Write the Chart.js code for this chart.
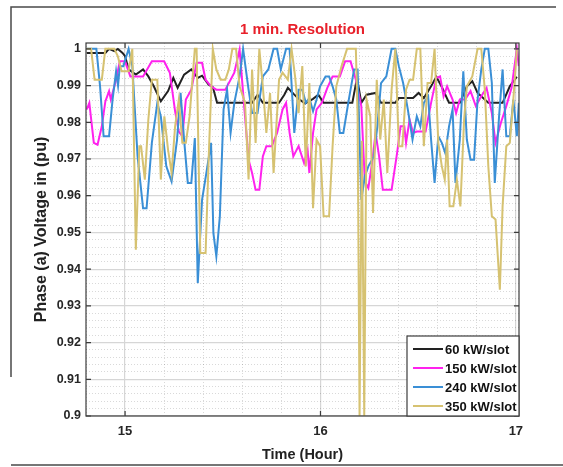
<!DOCTYPE html>
<html>
<head>
<meta charset="utf-8">
<script src="https://cdn.jsdelivr.net/npm/chart.js@4.4.1/dist/chart.umd.min.js"></script>
<style>
  html, body { margin: 0; padding: 0; background: #fff; }
</style>
</head>
<body>
<canvas id="voltChart" width="563" height="467"></canvas>
<script>
Chart.defaults.font.family = "'Liberation Sans', Arial, Helvetica, sans-serif";
Chart.defaults.color = '#262626';

// [time (hour), phase-a voltage (pu)]
const slot60 = [
  [14.804, 0.9989], [14.899, 0.9989], [14.918, 1.0], [14.945, 0.9994], [14.963, 1.0], [14.987, 0.9989],
  [15.0, 0.998], [15.018, 0.9944], [15.055, 0.993], [15.092, 0.9944], [15.119, 0.9925], [15.147, 0.9898],
  [15.183, 0.9857], [15.22, 0.9885], [15.247, 0.9921], [15.269, 0.9894], [15.302, 0.993], [15.339, 0.9944],
  [15.372, 0.9921], [15.394, 0.9927], [15.427, 0.9903], [15.449, 0.9896], [15.471, 0.9853], [15.65, 0.9853],
  [15.678, 0.9875], [15.705, 0.9853], [15.788, 0.9853], [15.815, 0.9875], [15.833, 0.9894], [15.861, 0.9878],
  [15.888, 0.9864], [15.921, 0.9851], [15.962, 0.9864], [15.989, 0.9875], [16.016, 0.9853], [16.163, 0.9853],
  [16.187, 0.9921], [16.209, 0.9853], [16.236, 0.9875], [16.282, 0.988], [16.31, 0.9853], [16.383, 0.9853],
  [16.401, 0.9866], [16.474, 0.9866], [16.502, 0.988], [16.529, 0.9866], [16.566, 0.9898], [16.593, 0.9924],
  [16.621, 0.9896], [16.658, 0.9853], [16.713, 0.9853], [16.749, 0.9898], [16.777, 0.9912], [16.804, 0.988],
  [16.859, 0.9853], [16.932, 0.9853], [16.969, 0.9898], [17.005, 0.9924]
];
const slot150 = [
  [14.804, 0.9835], [14.817, 0.9853], [14.84, 0.9744], [14.859, 0.9739], [14.881, 0.9789], [14.899, 0.9857],
  [14.918, 0.9885], [14.927, 0.9862], [14.954, 0.9916], [14.973, 0.9966], [15.0, 0.9966], [15.027, 0.9925],
  [15.092, 0.9925], [15.137, 0.9966], [15.2, 0.9966], [15.229, 0.9935], [15.256, 0.983], [15.275, 0.9775],
  [15.293, 0.9762], [15.311, 0.9862], [15.339, 0.9889], [15.366, 0.9962], [15.394, 0.9962], [15.412, 0.9916],
  [15.44, 0.9898], [15.467, 0.9889], [15.513, 0.9889], [15.559, 0.9935], [15.586, 0.9998], [15.632, 0.9698],
  [15.65, 0.9662], [15.668, 0.9616], [15.687, 0.9616], [15.705, 0.9707], [15.723, 0.9735], [15.751, 0.9735],
  [15.778, 0.9771], [15.806, 0.9835], [15.824, 0.9853], [15.842, 0.9771], [15.861, 0.9707], [15.888, 0.9735],
  [15.916, 0.9689], [15.934, 0.9725], [15.943, 0.9662], [15.962, 0.9771], [15.98, 0.9835], [16.007, 0.9853],
  [16.035, 0.9894], [16.062, 0.9925], [16.099, 0.9925], [16.126, 0.9966], [16.154, 0.9966], [16.181, 0.9916],
  [16.209, 0.9844], [16.227, 0.9639], [16.245, 0.9621], [16.264, 0.9689], [16.282, 0.9771], [16.3, 0.9707],
  [16.319, 0.9616], [16.364, 0.9616], [16.392, 0.9716], [16.41, 0.9789], [16.429, 0.9789], [16.438, 0.9744],
  [16.456, 0.9807], [16.474, 0.9771], [16.493, 0.9775], [16.538, 0.9775], [16.566, 0.9853], [16.593, 0.9921],
  [16.612, 0.9925], [16.63, 0.9871], [16.648, 0.9898], [16.676, 0.9862], [16.694, 0.9825], [16.713, 0.9862],
  [16.74, 0.9862], [16.768, 0.9885], [16.795, 0.9844], [16.823, 0.9871], [16.85, 0.9894], [16.877, 0.9825],
  [16.896, 0.9744], [16.923, 0.9798], [16.951, 0.9844], [16.978, 0.9894], [17.005, 1.0], [17.015, 0.9953]
];
const slot240 = [
  [14.804, 1.0], [14.853, 1.0], [14.872, 0.9898], [14.89, 0.9762], [14.918, 0.9762], [14.936, 0.9862],
  [14.954, 0.9939], [14.964, 0.99], [14.973, 0.9953], [14.991, 0.9953], [15.018, 1.0], [15.037, 0.9953],
  [15.064, 0.9707], [15.092, 0.9566], [15.11, 0.9566], [15.137, 0.9744], [15.165, 0.9853], [15.183, 0.9816],
  [15.211, 0.968], [15.238, 0.9639], [15.266, 0.9753], [15.284, 0.988], [15.302, 0.9753], [15.321, 0.9635],
  [15.339, 0.9635], [15.357, 0.9757], [15.372, 0.9362], [15.394, 0.9589], [15.416, 0.9662], [15.44, 0.9744],
  [15.452, 0.9498], [15.467, 0.9435], [15.485, 0.9544], [15.504, 0.9835], [15.522, 0.9889], [15.54, 0.9771],
  [15.559, 0.9853], [15.586, 0.9925], [15.604, 1.0], [15.632, 0.9889], [15.65, 0.9825], [15.678, 0.9825],
  [15.705, 0.9925], [15.733, 0.9944], [15.76, 1.0], [15.778, 1.0], [15.797, 0.9944], [15.824, 1.0],
  [15.842, 1.0], [15.866, 0.9771], [15.888, 0.9889], [15.907, 0.9889], [15.925, 0.9853], [15.943, 0.9866],
  [15.962, 0.983], [15.98, 0.9862], [15.998, 0.9898], [16.026, 0.9925], [16.044, 0.9925], [16.062, 0.9898],
  [16.081, 0.9862], [16.099, 0.9771], [16.117, 0.9771], [16.145, 0.9862], [16.172, 0.9944], [16.19, 0.9944],
  [16.209, 0.9589], [16.227, 0.9653], [16.245, 0.968], [16.273, 0.9707], [16.291, 0.9789], [16.31, 0.9907],
  [16.337, 0.9925], [16.364, 1.0], [16.383, 1.0], [16.401, 0.9953], [16.423, 0.9907], [16.447, 0.9835],
  [16.471, 0.9753], [16.493, 0.9816], [16.511, 0.9789], [16.529, 0.9853], [16.551, 0.9871], [16.566, 0.9753],
  [16.584, 0.9635], [16.603, 0.9762], [16.621, 0.9744], [16.639, 0.9716], [16.658, 0.9789], [16.676, 0.9835],
  [16.691, 0.9635], [16.713, 0.9753], [16.731, 0.9939], [16.749, 0.9753], [16.768, 0.9698], [16.786, 0.9698],
  [16.804, 0.9862], [16.823, 0.9944], [16.841, 1.0], [16.859, 1.0], [16.877, 0.9907], [16.892, 0.9635],
  [16.914, 0.9816], [16.932, 0.9944], [16.951, 0.9762], [16.969, 0.9762], [16.987, 0.9862], [17.005, 0.9762],
  [17.015, 0.9853]
];
const slot350 = [
  [14.804, 1.0], [14.826, 1.0], [14.844, 0.9916], [14.881, 0.9916], [14.899, 1.0], [14.945, 1.0],
  [14.963, 0.998], [14.982, 0.9939], [15.018, 0.9939], [15.037, 1.0], [15.055, 0.9453], [15.073, 0.9735],
  [15.082, 0.9735], [15.101, 0.9644], [15.119, 0.9807], [15.137, 0.9916], [15.165, 0.9916], [15.183, 0.9644],
  [15.201, 0.9816], [15.22, 0.9725], [15.238, 0.9662], [15.256, 0.9789], [15.275, 0.9862], [15.293, 0.9744],
  [15.311, 0.9744], [15.33, 0.9816], [15.357, 1.0], [15.366, 1.0], [15.385, 0.9444], [15.412, 0.9444],
  [15.43, 0.9735], [15.449, 1.0], [15.467, 0.9944], [15.489, 0.9916], [15.513, 0.9916], [15.531, 0.9944],
  [15.549, 1.0], [15.568, 1.0], [15.586, 0.9898], [15.614, 0.9853], [15.632, 0.9644], [15.65, 0.9944],
  [15.668, 0.9744], [15.687, 1.0], [15.705, 0.9898], [15.723, 0.9771], [15.742, 0.988], [15.76, 0.9662],
  [15.788, 0.9916], [15.806, 0.9935], [15.833, 0.9916], [15.852, 1.0], [15.87, 0.9925], [15.888, 0.9825],
  [15.907, 0.9953], [15.925, 0.968], [15.943, 0.9907], [15.962, 0.9566], [15.98, 0.9753], [15.998, 0.9735],
  [16.016, 0.9544], [16.044, 0.9544], [16.062, 0.9735], [16.081, 0.9898], [16.108, 0.9953], [16.136, 1.0],
  [16.181, 1.0], [16.19, 0.9816], [16.2, 0.9], [16.212, 0.975], [16.224, 0.9], [16.236, 0.9862],
  [16.255, 0.9816], [16.269, 0.9553], [16.288, 0.9916], [16.306, 0.9753], [16.324, 0.9862], [16.342, 0.9662],
  [16.364, 0.9889], [16.383, 1.0], [16.401, 0.9735], [16.419, 0.9735], [16.438, 0.9889], [16.456, 0.9916],
  [16.474, 0.9916], [16.493, 1.0], [16.511, 1.0], [16.529, 0.9735], [16.548, 0.9907], [16.566, 0.9907],
  [16.584, 1.0], [16.603, 0.9744], [16.621, 0.968], [16.636, 0.9644], [16.648, 0.9753], [16.661, 0.9571],
  [16.68, 0.9571], [16.698, 0.9644], [16.716, 0.9571], [16.735, 0.9807], [16.749, 0.9898], [16.777, 0.9925],
  [16.804, 1.0], [16.823, 1.0], [16.841, 0.9889], [16.859, 0.968], [16.877, 0.9544], [16.896, 0.9535],
  [16.918, 0.9344], [16.932, 0.9571], [16.951, 0.9735], [16.969, 0.9744], [16.987, 0.9862], [17.005, 0.9998]
];

const seriesLabels = ['60 kW/slot', '150 kW/slot', '240 kW/slot', '350 kW/slot'];
const seriesColors = ['#222222', '#ff22ee', '#3a8fd6', '#d6c271'];
const xTicks = [15, 16, 17];
const yTicks = [0.9, 0.91, 0.92, 0.93, 0.94, 0.95, 0.96, 0.97, 0.98, 0.99, 1];

const X_MIN = 14.8, X_MAX = 17.016, Y_MIN = 0.9, Y_MAX = 1.0016;

const toPoints = arr => arr.map(([t, v]) => ({ x: t, y: v }));

// light dotted minor grid like matlab "grid minor"
const minorX = [];
for (let i = 0; i <= 11; i++) {
  const v = +(14.8 + i * 0.2).toFixed(1);
  if (!xTicks.includes(v)) minorX.push(v);
}
const minorY = [];
for (let i = 1; i < 50; i++) {
  if (i % 5 !== 0) minorY.push(+(0.9 + i * 0.002).toFixed(3));
}

const framePlugin = {
  id: 'frame',
  beforeDraw(chart) {
    const { ctx } = chart;
    ctx.save();
    ctx.fillStyle = '#fff';
    ctx.fillRect(0, 0, chart.width, chart.height);
    ctx.strokeStyle = '#4a4a4a';
    ctx.lineWidth = 1.5;
    ctx.beginPath();
    ctx.moveTo(11, 377); ctx.lineTo(11, 7); ctx.lineTo(556, 7);
    ctx.moveTo(11, 465); ctx.lineTo(563, 465);
    ctx.stroke();
    ctx.restore();
  },
};

const boxPlugin = {
  id: 'axesBox',
  afterDatasetsDraw(chart) {
    const { ctx, chartArea: a, scales } = chart;
    ctx.save();
    ctx.strokeStyle = '#3c3c3c';
    ctx.lineWidth = 1.2;
    ctx.strokeRect(a.left, a.top, a.right - a.left, a.bottom - a.top);
    ctx.beginPath();
    yTicks.forEach(v => {
      const y = scales.y.getPixelForValue(v);
      ctx.moveTo(a.left, y); ctx.lineTo(a.left + 5, y);
      ctx.moveTo(a.right, y); ctx.lineTo(a.right - 5, y);
    });
    xTicks.forEach(v => {
      const x = scales.x.getPixelForValue(v);
      ctx.moveTo(x, a.bottom); ctx.lineTo(x, a.bottom - 5);
      ctx.moveTo(x, a.top); ctx.lineTo(x, a.top + 5);
    });
    ctx.stroke();
    ctx.restore();
  },
};

const legendPlugin = {
  id: 'boxLegend',
  afterDraw(chart) {
    const { ctx, chartArea: a } = chart;
    const w = 112, h = 80;
    const left = a.right - w, top = a.bottom - h;
    ctx.save();
    ctx.fillStyle = '#fff';
    ctx.fillRect(left, top, w, h);
    ctx.strokeStyle = '#3c3c3c';
    ctx.lineWidth = 1.2;
    ctx.strokeRect(left, top, w, h);
    ctx.font = "bold 13px 'Liberation Sans', Arial, sans-serif";
    ctx.textBaseline = 'middle';
    ctx.textAlign = 'left';
    chart.data.datasets.forEach((ds, i) => {
      const y = top + 13 + i * 19;
      ctx.strokeStyle = ds.borderColor;
      ctx.lineWidth = 2;
      ctx.beginPath();
      ctx.moveTo(left + 6, y); ctx.lineTo(left + 36, y);
      ctx.stroke();
      ctx.fillStyle = '#111';
      ctx.fillText(ds.label, left + 38, y + 1);
    });
    ctx.restore();
  },
};

new Chart(document.getElementById('voltChart'), {
  type: 'line',
  data: {
    datasets: [slot60, slot150, slot240, slot350].map((s, i) => ({
      label: seriesLabels[i],
      data: toPoints(s),
      borderColor: seriesColors[i],
      backgroundColor: seriesColors[i],
      borderWidth: 2,
      pointRadius: 0,
      tension: 0,
      order: 3 - i,
    })),
  },
  options: {
    responsive: false,
    animation: false,
    events: [],
    layout: { padding: { left: 30, right: 44, top: 0, bottom: 0 } },
    plugins: {
      legend: { display: false },
      tooltip: { enabled: false },
      title: {
        display: true,
        fullSize: false,
        text: '1 min. Resolution',
        color: '#e8202a',
        font: { size: 15, weight: 'bold' },
        padding: { top: 21, bottom: 4 },
      },
    },
    scales: {
      x: {
        type: 'linear', position: 'bottom', min: X_MIN, max: X_MAX,
        afterBuildTicks: s => { s.ticks = xTicks.map(v => ({ value: v })); },
        afterFit: s => { s.height = 51; },
        ticks: { font: { size: 13, weight: 'bold' }, padding: 8, callback: v => String(v) },
        grid: { color: '#d6d6d6', lineWidth: 1.2, drawTicks: false },
        border: { display: false },
        title: { display: true, text: 'Time (Hour)', color: '#222', font: { size: 14.5, weight: 'bold' }, padding: { top: 0, bottom: 3 } },
      },
      xMinor: {
        type: 'linear', position: 'bottom', min: X_MIN, max: X_MAX,
        afterBuildTicks: s => { s.ticks = minorX.map(v => ({ value: v })); },
        afterFit: s => { s.height = 0; },
        ticks: { display: false },
        grid: { color: 'rgba(0,0,0,0.15)', lineWidth: 1, drawTicks: false, borderDash: [1, 2] },
        border: { display: false, dash: [1, 2] },
      },
      y: {
        type: 'linear', position: 'left', min: Y_MIN, max: Y_MAX,
        afterBuildTicks: s => { s.ticks = yTicks.map(v => ({ value: v })); },
        afterFit: s => { s.width = 56; },
        ticks: { font: { size: 12.5, weight: 'bold' }, padding: 5, callback: v => String(+(+v).toFixed(2)) },
        grid: { color: '#d6d6d6', lineWidth: 1.2, drawTicks: false },
        border: { display: false },
        title: { display: true, text: 'Phase (a) Voltage in (pu)', color: '#222', font: { size: 16, weight: 'bold' }, padding: { top: 2, bottom: 0 } },
      },
      yMinor: {
        type: 'linear', position: 'left', min: Y_MIN, max: Y_MAX,
        afterBuildTicks: s => { s.ticks = minorY.map(v => ({ value: v })); },
        afterFit: s => { s.width = 0; },
        ticks: { display: false },
        grid: { color: 'rgba(0,0,0,0.15)', lineWidth: 1, drawTicks: false, borderDash: [1, 2] },
        border: { display: false, dash: [1, 2] },
      },
    },
  },
  plugins: [framePlugin, boxPlugin, legendPlugin],
});
</script>
</body>
</html>
